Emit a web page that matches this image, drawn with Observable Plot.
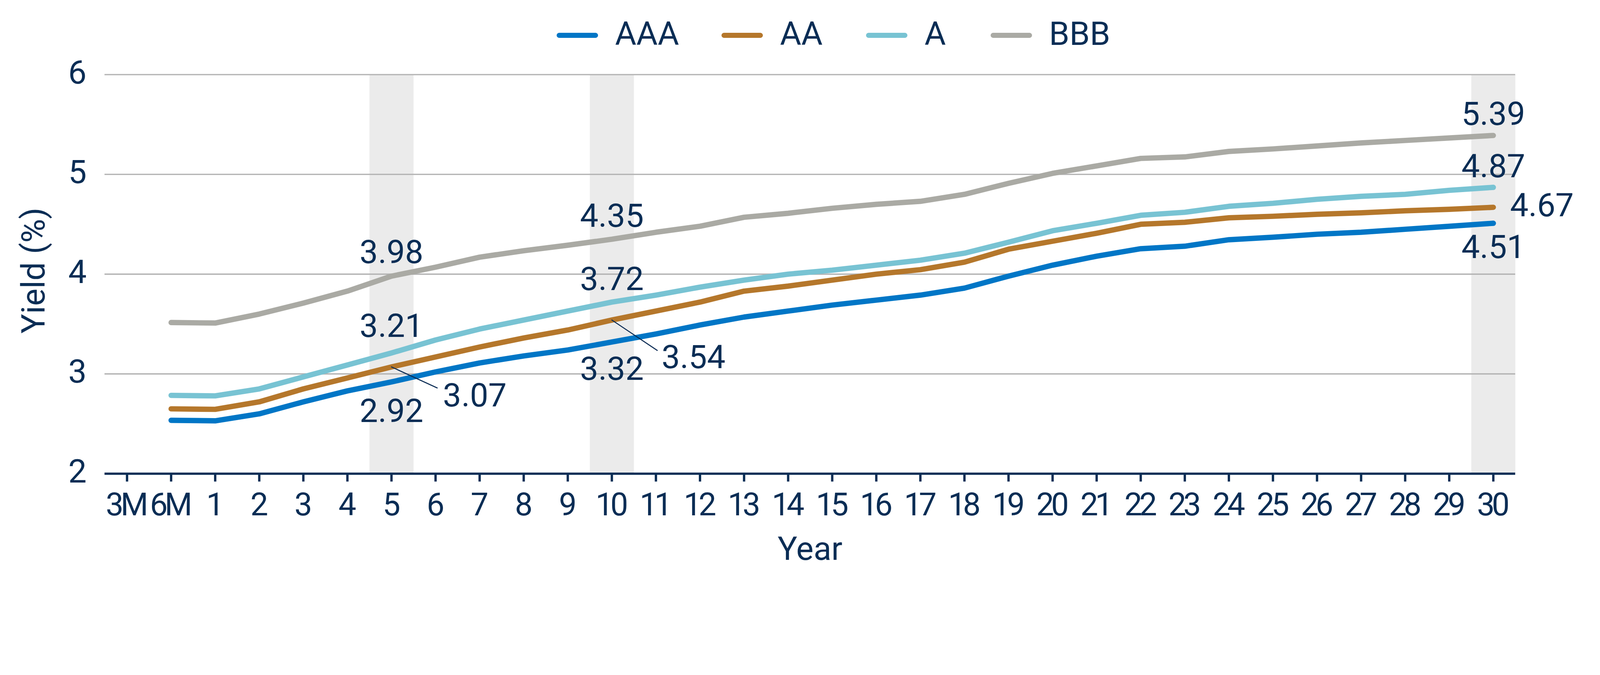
<!DOCTYPE html>
<html>
<head>
<meta charset="utf-8">
<script src="https://cdn.jsdelivr.net/npm/d3@7"></script>
<script src="https://cdn.jsdelivr.net/npm/@observablehq/plot@0.6"></script>
<style>
  :root { --u: calc(100vw / 4792); }
  html, body { margin: 0; padding: 0; overflow: hidden; background: #fff; }
  body { font-family: Roboto, sans-serif; color: #0a2d55; }
  #legend { height: calc(200 * var(--u)); box-sizing: border-box; padding-top: calc(12 * var(--u)); padding-left: calc(1667 * var(--u)); display: flex; align-items: center; }
  .item { display: flex; align-items: center; flex: none; }
  .sw { width: calc(124 * var(--u)); height: calc(16 * var(--u)); border-radius: calc(8 * var(--u)); margin-right: calc(51 * var(--u)); flex: none; }
  .lab { font-size: calc(98 * var(--u)); line-height: 1; position: relative; top: calc(-4 * var(--u)); white-space: nowrap; }
  #chart svg { display: block; width: 100%; height: auto; }
</style>
</head>
<body>
<div id="legend"></div>
<div id="chart"></div>
<script>
// ---- data ----
const categories = ["3M","6M","1","2","3","4","5","6","7","8","9","10","11","12","13","14","15","16","17","18","19","20","21","22","23","24","25","26","27","28","29","30"];
const seriesNames = ["AAA", "AA", "A", "BBB"];
const seriesColors = ["#0076c6", "#b5772b", "#78c3d3", "#aaaaa4"];
// values per category (3M has no value)
const aaaValues = [null, 2.535, 2.53, 2.60, 2.72, 2.83, 2.92, 3.02, 3.11, 3.18, 3.24, 3.32, 3.40, 3.49, 3.57, 3.63, 3.69, 3.74, 3.79, 3.86, 3.98, 4.09, 4.18, 4.255, 4.28, 4.345, 4.37, 4.40, 4.42, 4.45, 4.48, 4.51];
const aaValues  = [null, 2.65, 2.645, 2.72, 2.85, 2.96, 3.07, 3.17, 3.27, 3.36, 3.44, 3.54, 3.63, 3.72, 3.83, 3.88, 3.94, 4.00, 4.045, 4.12, 4.25, 4.33, 4.41, 4.50, 4.52, 4.565, 4.58, 4.60, 4.615, 4.635, 4.65, 4.67];
const aValues   = [null, 2.785, 2.78, 2.85, 2.97, 3.09, 3.21, 3.34, 3.45, 3.54, 3.63, 3.72, 3.79, 3.87, 3.94, 4.00, 4.04, 4.09, 4.14, 4.21, 4.32, 4.435, 4.51, 4.59, 4.62, 4.68, 4.71, 4.75, 4.78, 4.80, 4.84, 4.87];
const bbbValues = [null, 3.515, 3.51, 3.60, 3.71, 3.83, 3.98, 4.07, 4.17, 4.235, 4.29, 4.35, 4.42, 4.48, 4.57, 4.61, 4.66, 4.70, 4.73, 4.80, 4.91, 5.01, 5.085, 5.16, 5.175, 5.23, 5.255, 5.285, 5.315, 5.34, 5.365, 5.39];
const yTicks = [2, 3, 4, 5, 6];
const shadedCategories = ["5", "10", "30"];
const xTitle = "Year";
const yTitle = "Yield (%)";

// ---- styles ----
const navy = "#0a2d55";
const FS = 98;
const FONT = "Roboto, sans-serif";
const W = 4792, H = 1529;
const mL = 313, mR = 254, mT = 23, mB = 310;
const step = (W - mL - mR) / categories.length;

const seriesValues = {AAA: aaaValues, AA: aaValues, A: aValues, BBB: bbbValues};
const data = [];
for (const s of seriesNames) {
  seriesValues[s].forEach((v, i) => { if (v != null) data.push({series: s, cat: categories[i], value: v}); });
}
const valueAt = (s, c) => seriesValues[s][categories.indexOf(c)];

// annotation placement (pixel offsets are style)
const annotations = [
  {s: "BBB", c: "5",  dy: -39, la: "bottom"},
  {s: "A",   c: "5",  dy: -48, la: "bottom"},
  {s: "AA",  c: "5",  dx: 154, dy: 118, ta: "start", la: "bottom", leader: [137, 63]},
  {s: "AAA", c: "5",  dy: 51, la: "top"},
  {s: "BBB", c: "10", dy: -37, la: "bottom"},
  {s: "A",   c: "10", dy: -36, la: "bottom"},
  {s: "AA",  c: "10", dx: 149, dy: 144, ta: "start", la: "bottom", leader: [136, 91]},
  {s: "AAA", c: "10", dy: 44, la: "top"},
  {s: "BBB", c: "30", dy: -32, la: "bottom"},
  {s: "A",   c: "30", dy: -30, la: "bottom"},
  {s: "AA",  c: "30", dx: 50, dy: 27, ta: "start", la: "bottom"},
  {s: "AAA", c: "30", dy: 35, la: "top"}
];

const leaderShape = {draw(context, l) { context.moveTo(0, 0); context.lineTo(0, -l); }};

const marks = [
  Plot.ruleX(shadedCategories, {x: d => d, y1: yTicks[0], y2: yTicks[yTicks.length - 1], stroke: "#ebebeb", strokeWidth: step}),
  Plot.ruleY(yTicks.filter(t => t > yTicks[0]), {stroke: "#b4b4b4", strokeWidth: 4}),
  Plot.line(data, {x: "cat", y: "value", z: "series", stroke: "series", strokeWidth: 16, strokeLinecap: "round", strokeLinejoin: "round"}),
  Plot.ruleY([yTicks[0]], {stroke: navy, strokeWidth: 7}),
  Plot.axisX({tickSize: 24, tickPadding: 33, fontSize: 95, strokeWidth: 7, label: null, color: navy}),
  Plot.axisY({ticks: yTicks, tickFormat: d3.format("d"), tickSize: 0, tickPadding: 54, fontSize: FS, label: null, dy: -5, color: navy}),
  Plot.text([xTitle], {frameAnchor: "bottom", dy: 258, lineAnchor: "bottom", fontSize: FS, fill: navy}),
  Plot.text([yTitle], {frameAnchor: "left", dx: -212, dy: -11, rotate: -90, textAnchor: "middle", lineAnchor: "middle", fontSize: FS, fill: navy})
];

for (const a of annotations) {
  const v = valueAt(a.s, a.c);
  const d = [{cat: a.c, value: v}];
  if (a.leader) {
    const [lx, ly] = a.leader;
    marks.push(Plot.vector(d, {x: "cat", y: "value", length: Math.hypot(lx, ly), rotate: Math.atan2(lx, -ly) * 180 / Math.PI,
      anchor: "start", shape: leaderShape, stroke: navy, strokeWidth: 3}));
  }
  marks.push(Plot.text(d, {x: "cat", y: "value", text: r => r.value.toFixed(2), dx: a.dx || 0, dy: a.dy || 0,
    textAnchor: a.ta || "middle", lineAnchor: a.la, fontSize: FS, fill: navy}));
}

const chart = Plot.plot({
  width: W, height: H,
  marginLeft: mL, marginRight: mR, marginTop: mT, marginBottom: mB,
  style: {fontFamily: FONT, color: navy, background: "#fff", overflow: "visible"},
  x: {type: "point", domain: categories, padding: 0.5},
  y: {domain: [yTicks[0], yTicks[yTicks.length - 1]]},
  color: {domain: seriesNames, range: seriesColors},
  marks
});
// tighten the x tick labels (the original face is narrower)
d3.select(chart).selectAll('g[aria-label="x-axis tick label"] text')
  .attr("letter-spacing", "-9")
  .attr("dx", "-4.5");
document.getElementById("chart").appendChild(chart);

// legend
const itemWidths = [494, 433, 373, null];
const legend = document.getElementById("legend");
seriesNames.forEach((s, i) => {
  const it = document.createElement("div");
  it.className = "item";
  if (itemWidths[i]) it.style.width = `calc(${itemWidths[i]} * var(--u))`;
  it.innerHTML = `<div class="sw" style="background:${seriesColors[i]}"></div><span class="lab">${s}</span>`;
  legend.appendChild(it);
});
</script>
</body>
</html>
